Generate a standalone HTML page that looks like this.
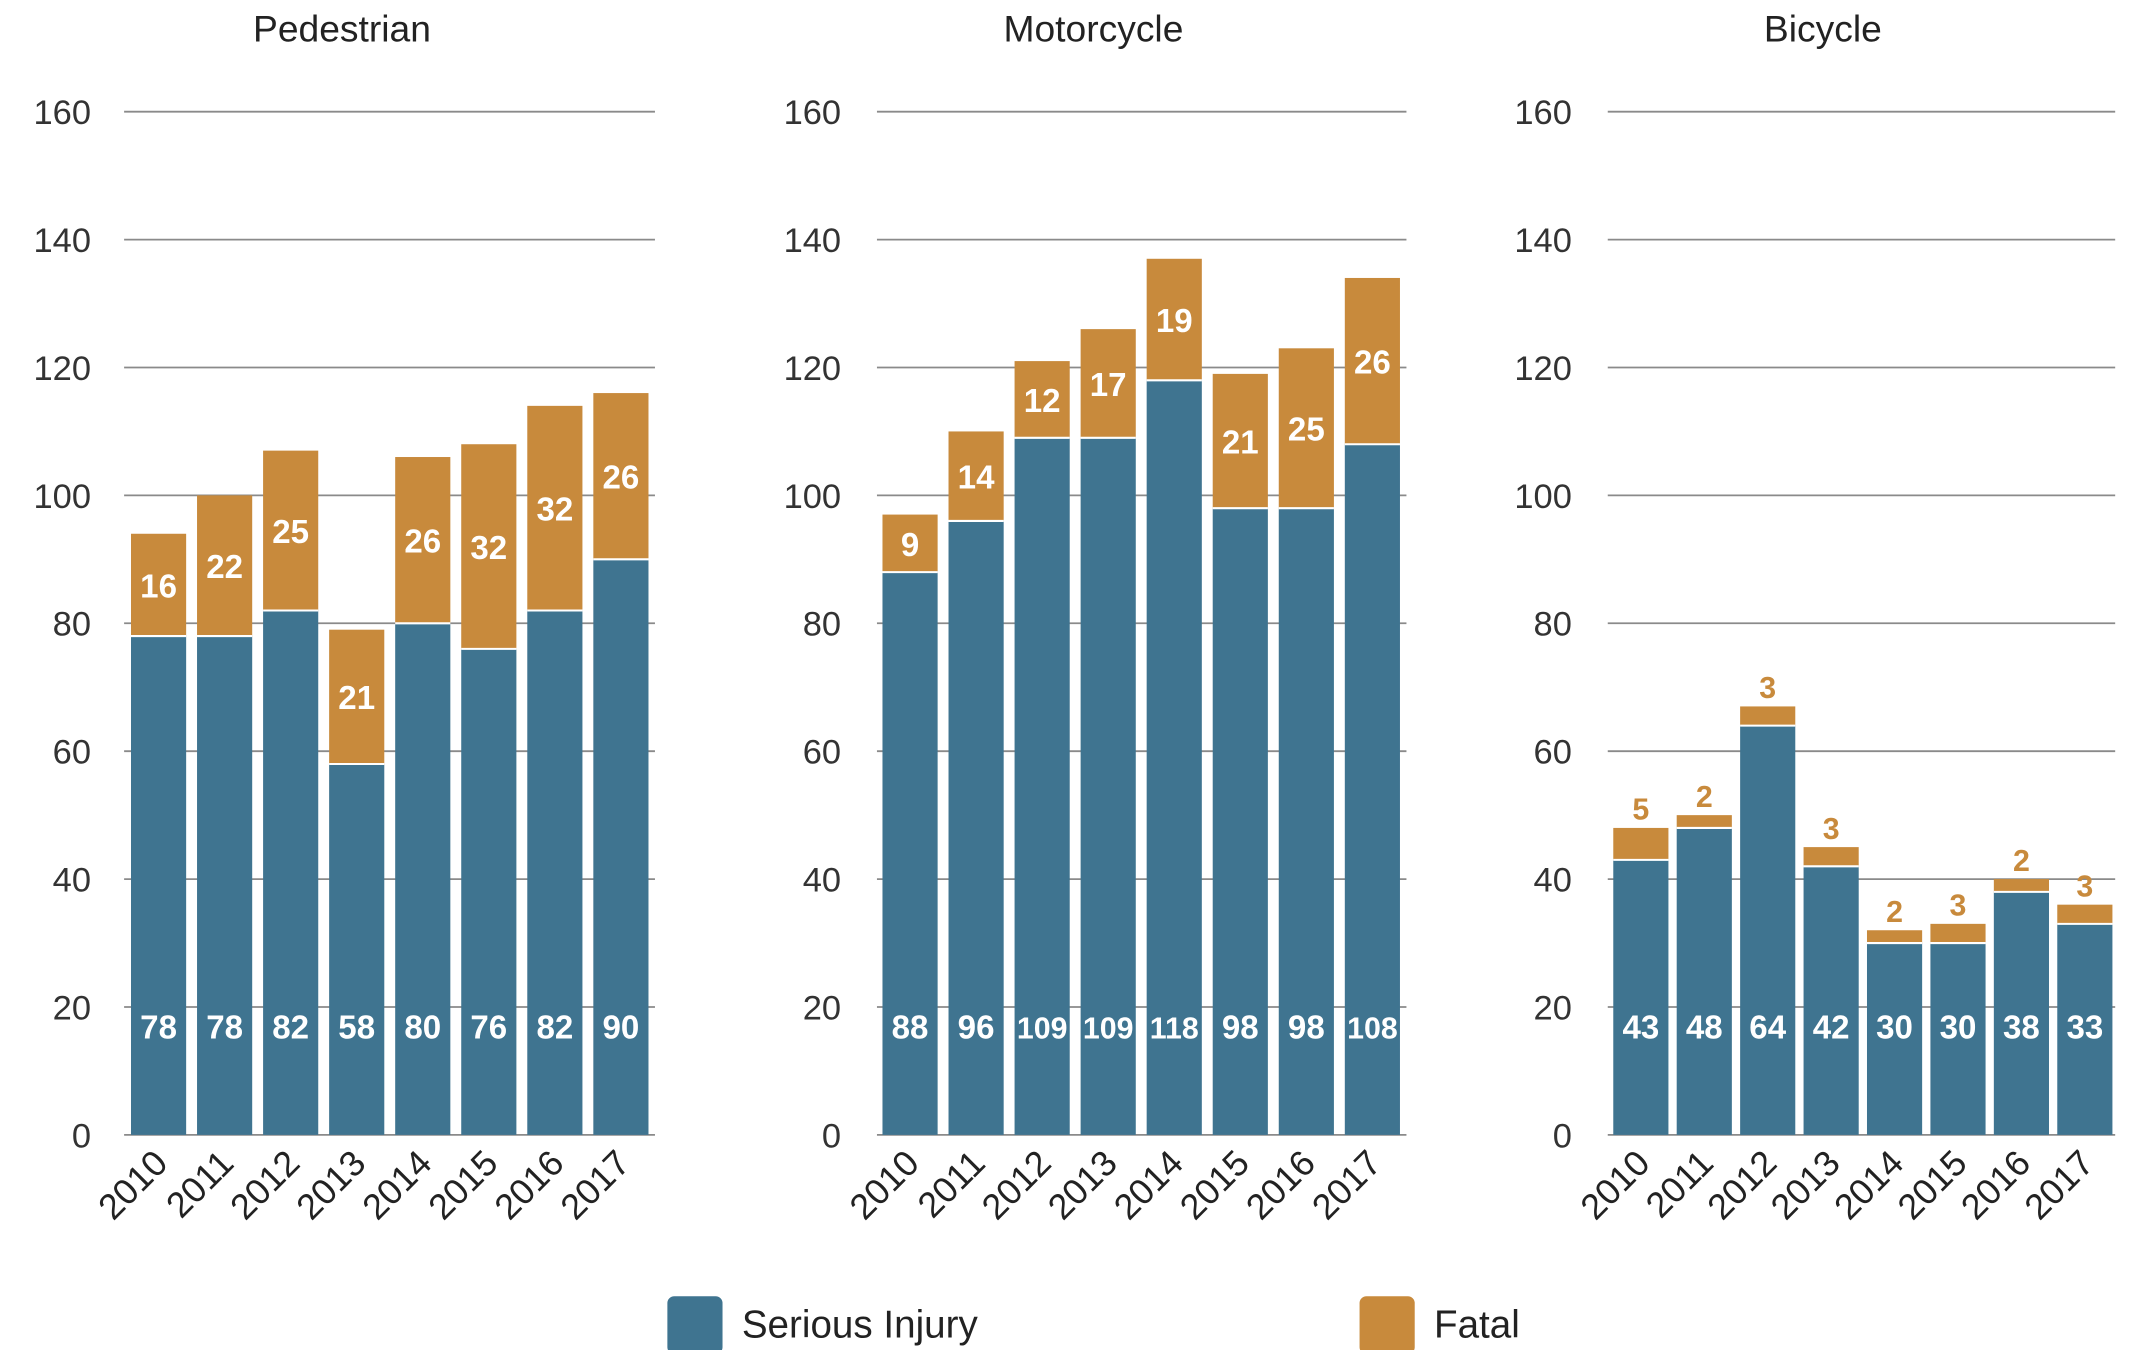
<!DOCTYPE html>
<html><head><meta charset="utf-8"><style>
html,body{margin:0;padding:0;background:#fff}
svg{display:block}
text{font-family:"Liberation Sans",sans-serif}
</style></head><body>
<svg id="chart" width="2140" height="1350" viewBox="0 0 1552 979" preserveAspectRatio="none" xmlns="http://www.w3.org/2000/svg"></svg>
<script>
const years = ["2010","2011","2012","2013","2014","2015","2016","2017"];
const panelTitles = ["Pedestrian","Motorcycle","Bicycle"];
const pedSerious = [78,78,82,58,80,76,82,90];
const pedFatal = [16,22,25,21,26,32,32,26];
const motoSerious = [88,96,109,109,118,98,98,108];
const motoFatal = [9,14,12,17,19,21,25,26];
const bikeSerious = [43,48,64,42,30,30,38,33];
const bikeFatal = [5,2,3,3,2,3,2,3];
const yTicks = [0,20,40,60,80,100,120,140,160];

const BLUE="#3f7490", ORANGE="#c88a3c";
const svg=document.getElementById('chart');
const NS="http://www.w3.org/2000/svg";
function mk(tag,attrs,parent){const e=document.createElementNS(NS,tag);for(const k in attrs)e.setAttribute(k,attrs[k]);(parent||svg).appendChild(e);return e;}
const y0=823,y1=81;
function yScale(v){return y0-(v/160)*(y0-y1);}

const panels=[
 {title:panelTitles[0],s:pedSerious,f:pedFatal,gx0:90,gx1:475,bx0:95,step:47.9,bw:40,tickX:66,tx:248,outside:false},
 {title:panelTitles[1],s:motoSerious,f:motoFatal,gx0:636,gx1:1020,bx0:640,step:47.9,bw:40,tickX:610,tx:793,outside:false},
 {title:panelTitles[2],s:bikeSerious,f:bikeFatal,gx0:1166,gx1:1534,bx0:1170,step:46,bw:40,tickX:1140,tx:1322,outside:true}
];

panels.forEach((p,pi)=>{
 const g=mk('g',{});
 
 
 const t=mk('text',{x:p.tx,y:30,'text-anchor':'middle','font-size':27,fill:'#222'},g);
 t.textContent=p.title;
 
 
 yTicks.forEach(v=>{
  const y=yScale(v);
  const l=mk('line',{x1:p.gx0,x2:p.gx1,y1:y,y2:y,stroke:'#8a8a8a','stroke-width':1.3},g);
  
  
  const tl=mk('text',{x:p.tickX,y:y+9,'text-anchor':'end','font-size':25,fill:'#333'},g);
  tl.textContent=v;
  
  
 });
 years.forEach((yr,i)=>{
  const x=p.bx0+i*p.step;
  const s=p.s[i],f=p.f[i];
  const rs=mk('rect',{x:x,y:yScale(s),width:p.bw,height:yScale(0)-yScale(s),fill:BLUE},g);
  
  
  const rf=mk('rect',{x:x,y:yScale(s+f),width:p.bw,height:yScale(s)-yScale(s+f),fill:ORANGE},g);
  
  
  mk('line',{x1:x,x2:x+p.bw,y1:yScale(s),y2:yScale(s),stroke:'#fff','stroke-width':1.5},g);
  const ls=mk('text',{x:x+p.bw/2,y:753,'text-anchor':'middle','font-size':s>=100?22:24,'font-weight':'bold',fill:'#fff'},g);
  ls.textContent=s;
  
  
  let lf;
  if(p.outside){
   lf=mk('text',{x:x+p.bw/2,y:yScale(s+f)-6,'text-anchor':'middle','font-size':22,'font-weight':'bold',fill:ORANGE},g);
  } else {
   lf=mk('text',{x:x+p.bw/2,y:(yScale(s)+yScale(s+f))/2+9,'text-anchor':'middle','font-size':24,'font-weight':'bold',fill:'#fff'},g);
  }
  lf.textContent=f;
  
  
  const cx=x+p.bw/2+8, cy=845;
  const xl=mk('text',{x:cx,y:cy,'text-anchor':'end','font-size':26,fill:'#222',transform:`rotate(-45 ${cx} ${cy})`},g);
  xl.textContent=yr;
  
  
 });
});

const lg=mk('g',{});


const sw1=mk('rect',{x:484,y:940,width:40,height:42,rx:5,fill:BLUE},lg);


const lt1=mk('text',{x:538,y:970,'font-size':28,fill:'#222'},lg);
lt1.textContent='Serious Injury';


const sw2=mk('rect',{x:986,y:940,width:40,height:42,rx:5,fill:ORANGE},lg);


const lt2=mk('text',{x:1040,y:970,'font-size':28,fill:'#222'},lg);
lt2.textContent='Fatal';


</script>
</body></html>
